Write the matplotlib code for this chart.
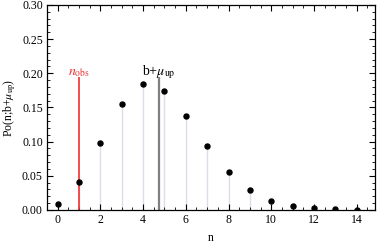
import matplotlib
matplotlib.use("Agg")
import matplotlib.pyplot as plt
from matplotlib.ticker import MultipleLocator

n = [0, 1, 2, 3, 4, 5, 6, 7, 8, 9, 10, 11, 12, 13, 14]
prob = [0.0087, 0.0414, 0.0982, 0.155, 0.184, 0.174, 0.138, 0.0933,
        0.0553, 0.0291, 0.0138, 0.0059, 0.0023, 0.0009, 0.0003]
n_obs = 1
b_mu_up = 4.74
line_top = 0.195

plt.rcParams['font.family'] = ['Liberation Serif', 'DejaVu Serif']
plt.rcParams['mathtext.fontset'] = 'stix'

fig = plt.figure(figsize=(3.79, 2.45), dpi=100)
ax = fig.add_axes([0.124, 0.143, 0.865, 0.837])

ax.vlines(n, 0, prob, color='#dcdcec', lw=1.0, zorder=1)
ax.plot(n, prob, 'o', color='black', ms=3.6, zorder=3)
ax.vlines([n_obs], 0, line_top, color='#f03030', lw=1.2, zorder=2)
ax.vlines([b_mu_up], 0, line_top, color='#808080', lw=1.6, zorder=2)
ax.text(n_obs, 0.201, r'$n_{\mathrm{obs}}$', color='#f03030', ha='center', va='center', fontsize=10)
ax.text(b_mu_up, 0.201, r'b+$\mu_{\mathrm{up}}$', color='black', ha='center', va='center', fontsize=10)

ax.set_xlim(-0.5, 14.85)
ax.set_ylim(0, 0.30)
ax.xaxis.set_major_locator(MultipleLocator(2))
ax.xaxis.set_minor_locator(MultipleLocator(0.5))
ax.yaxis.set_major_locator(MultipleLocator(0.05))
ax.yaxis.set_minor_locator(MultipleLocator(0.01))
ax.yaxis.set_major_formatter(matplotlib.ticker.FormatStrFormatter('%.2f'))
ax.tick_params(which='both', direction='in', top=True, right=True, labelsize=8.5, pad=3)
ax.tick_params(which='major', length=4, width=0.8)
ax.tick_params(which='minor', length=2.2, width=0.6)
for s in ax.spines.values():
    s.set_linewidth(0.9)
ax.set_xlabel('n', fontsize=8.5, labelpad=4)
ax.set_ylabel(r'Po(n;b+$\mu_{\mathrm{up}}$)', fontsize=8.5, labelpad=3)

fig.savefig('out.png', dpi=100)
